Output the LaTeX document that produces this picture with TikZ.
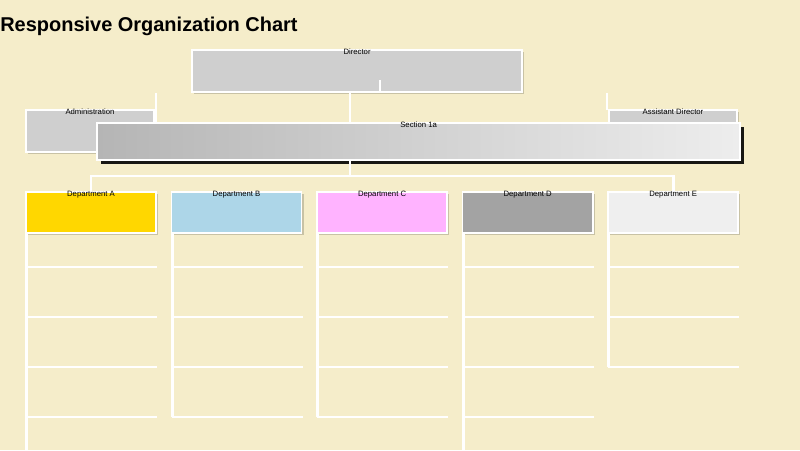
\documentclass[tikz,border=0pt]{standalone}
\usepackage{fontspec}
\setmainfont{Liberation Sans}
\usetikzlibrary{positioning, shadows}

\definecolor{paper}{HTML}{F5EDCA}
\definecolor{boxgray}{HTML}{CFCFCF}
\definecolor{depyellow}{HTML}{FFD700}
\definecolor{depblue}{HTML}{ADD6E8}
\definecolor{deppink}{HTML}{FFB3FF}
\definecolor{depgray}{HTML}{A3A3A3}
\definecolor{depwhite}{HTML}{EFEFEF}

\begin{document}
\begin{tikzpicture}[
    x=0.025cm, y=-0.025cm,
    node distance=0.3875cm,
    base/.style={draw=white, line width=1.2pt, rectangle, inner sep=0pt, outer sep=0pt},
    box/.style={base, fill=boxgray, drop shadow={shadow xshift=1.5pt, shadow yshift=-1.5pt, fill=black, opacity=0.18}},
    secbox/.style={base, left color=black!29, right color=black!7, drop shadow={shadow xshift=3pt, shadow yshift=-3pt, fill=black, opacity=0.9}},
    dept/.style={box, minimum width=3.25cm, minimum height=1.025cm},
    tag/.style={font=\fontsize{5.5}{5.5}\selectfont, inner sep=0pt, anchor=north, yshift=0.9pt},
    wire/.style={draw=white, line width=2pt}
]
    % Page
    \fill[paper] (0,0) rectangle (800,450);
    \useasboundingbox (0,0) rectangle (800,450);
    \node[font=\bfseries\fontsize{14.2}{16}\selectfont, anchor=base west, inner sep=0pt] (title) at (0,31) {Responsive Organization Chart};

    % Top level
    \node[box, minimum width=8.25cm, minimum height=1.05cm, anchor=north west] (dir) at (192,50) {};
    \node[box, minimum width=3.2cm, minimum height=1.05cm, anchor=north west] (adm) at (26,110) {};
    \node[box, minimum width=3.2cm, minimum height=1.05cm, anchor=north west] (ass) at (609,110) {};

    % Upper ties
    \coordinate (dirdrop) at (350,92);
    \coordinate (dirstub) at (380,80);
    \coordinate (admtie) at (156,93);
    \coordinate (asstie) at (607,93);
    \draw[wire] (dirstub) -- (dirstub |- dir.south);
    \draw[wire] (admtie) -- (admtie |- 0,123);
    \draw[wire] (asstie) -- (asstie |- ass.north);
    \draw[wire] (dirdrop) -- (dirdrop |- 0,123);

    % Section
    \node[secbox, minimum width=16.075cm, minimum height=0.925cm, anchor=north west] (sec) at (97,123) {};

    % Departments
    \node[dept, fill=depyellow, anchor=north west] (depA) at (26,192) {};
    \node[dept, fill=depblue, right=of depA] (depB) {};
    \node[dept, fill=deppink, right=of depB] (depC) {};
    \node[dept, fill=depgray, right=of depC] (depD) {};
    \node[dept, fill=depwhite, right=of depD] (depE) {};

    % Lower ties
    \coordinate (bus) at (350,176);
    \draw[wire] (dirdrop |- sec.south) -- (bus);
    \draw[wire] (depA.north) -- (depA.north |- bus) -- (depE.north |- bus) -- (depE.north);

    % Empty slots under each department
    \foreach \d/\ys/\e in {depA/{267,317,367,417}/450, depB/{267,317,367,417}/417,
                          depC/{267,317,367,417}/417, depD/{267,317,367,417}/450,
                          depE/{267,317,367}/367} {
        \draw[wire] ([xshift=0.4pt]\d.south west) -- ([xshift=0.4pt]\d.south west |- 0,\e);
        \foreach \y in \ys
            \draw[wire] (\d.south west |- 0,\y) -- ([xshift=0.8pt]\d.south east |- 0,\y);
    }

    % Labels
    \node[tag] (dirtag) at (dir.north) {Director};
    \node[tag] (admtag) at (adm.north) {Administration};
    \node[tag] (asstag) at (ass.north) {Assistant Director};
    \node[tag] (sectag) at (sec.north) {Section 1a};
    \foreach \d/\t in {depA/A, depB/B, depC/C, depD/D, depE/E}
        \node[tag] (\d tag) at (\d.north) {Department \t};
\end{tikzpicture}
\end{document}
